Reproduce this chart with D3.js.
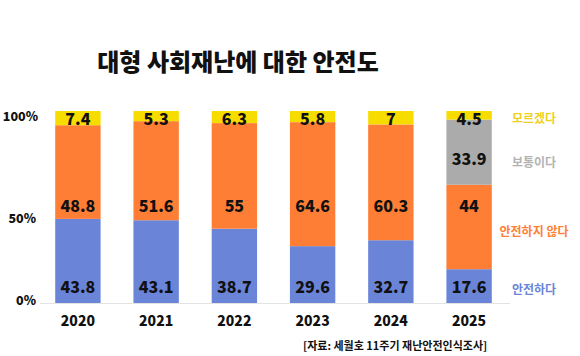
<!DOCTYPE html>
<html><head><meta charset="utf-8">
<script src="https://cdn.jsdelivr.net/npm/d3@7"></script>
<style>
body{margin:0;background:#fff;}
text{font-family:"Noto Sans CJK KR","Noto Sans",sans-serif;}
</style></head>
<body><svg id="c" width="580" height="356"></svg>
<script>
const years = ["2020","2021","2022","2023","2024","2025"];
const safe = [43.8, 43.1, 38.7, 29.6, 32.7, 17.6];
const unsafe = [48.8, 51.6, 55, 64.6, 60.3, 44];
const neutral = [0, 0, 0, 0, 0, 33.9];
const unknown = [7.4, 5.3, 6.3, 5.8, 7, 4.5];
const seriesNames = ["안전하다", "안전하지 않다", "보통이다", "모르겠다"];
const yTicks = [0, 50, 100];

const colors = ["#6a84d8", "#ff7e35", "#ababab", "#f7dc00"];
const legendColors = ["#6a84d8", "#ff7e35", "#b3b3b3", "#f0cf20"];
const seriesVals = [safe, unsafe, neutral, unknown];

const svg = d3.select("#c");
const x = d3.scaleBand().domain(years).range([38, 509]).paddingInner(0.42).paddingOuter(0.22);
const y = d3.scaleLinear().domain([0, 100]).range([303, 111]);

const rows = years.map((yr, i) => ({year: yr, s0: safe[i], s1: unsafe[i], s2: neutral[i], s3: unknown[i]}));
const stack = d3.stack().keys(["s0","s1","s2","s3"])(rows);

svg.append("text").attr("x", 238).attr("y", 60).attr("text-anchor","middle")
  .attr("dominant-baseline","central").attr("font-size", 24).attr("font-weight", 900)
  .attr("fill","#111").text("대형 사회재난에 대한 안전도");

// axis line
svg.append("line").attr("x1", 40).attr("x2", 510).attr("y1", y(0)+0.5).attr("y2", y(0)+0.5)
  .attr("stroke", "#e3e3e3").attr("stroke-width", 1.2);

stack.forEach((layer, k) => {
  svg.append("g").selectAll("rect").data(layer).join("rect")
    .attr("x", d => x(d.data.year)).attr("width", x.bandwidth())
    .attr("y", d => y(d[1])).attr("height", d => Math.max(0, y(d[0]) - y(d[1])))
    .attr("fill", colors[k]);
});

// value labels at fixed rows per series
const labelRow = [9, 51, 75.5, 96.5];
seriesVals.forEach((vals, k) => {
  svg.append("g").selectAll("text").data(vals.map((v, i) => ({v, yr: years[i]})).filter(d => d.v > 0))
    .join("text")
    .attr("x", d => x(d.yr) + x.bandwidth()/2).attr("y", y(labelRow[k]))
    .attr("text-anchor","middle").attr("dominant-baseline","central")
    .attr("font-size", 16).attr("font-weight", 800).attr("fill","#111")
    .text(d => d.v);
});

// y tick labels
const tickNudge = {0: -4, 50: 10, 100: 4};
svg.append("g").selectAll("text").data(yTicks).join("text")
  .attr("x", d => d === 100 ? 38 : 36).attr("y", d => y(d) + tickNudge[d])
  .attr("text-anchor","end").attr("dominant-baseline","central")
  .attr("font-size", 12.5).attr("font-weight", 800).attr("fill","#111")
  .text(d => d + "%");

// x labels
svg.append("g").selectAll("text").data(years).join("text")
  .attr("x", d => x(d) + x.bandwidth()/2).attr("y", 320)
  .attr("text-anchor","middle").attr("dominant-baseline","central")
  .attr("font-size", 14).attr("font-weight", 800).attr("fill","#111")
  .text(d => d);

// legend labels, at right of last bar, aligned with rows
const legendY = [288, 230, 161, 117];
const legendX = [534, 534, 534, 534];
seriesNames.forEach((n, k) => {
  svg.append("text").attr("x", legendX[k]).attr("y", legendY[k])
    .attr("text-anchor","middle").attr("dominant-baseline","central")
    .attr("font-size", 12).attr("font-weight", 700).attr("fill", legendColors[k]).text(n);
});

svg.append("text").attr("x", 303).attr("y", 345).attr("dominant-baseline","central")
  .attr("font-size", 11).attr("font-weight", 700).attr("fill","#111")
  .text("[자료: 세월호 11주기 재난안전인식조사]");
</script></body></html>
